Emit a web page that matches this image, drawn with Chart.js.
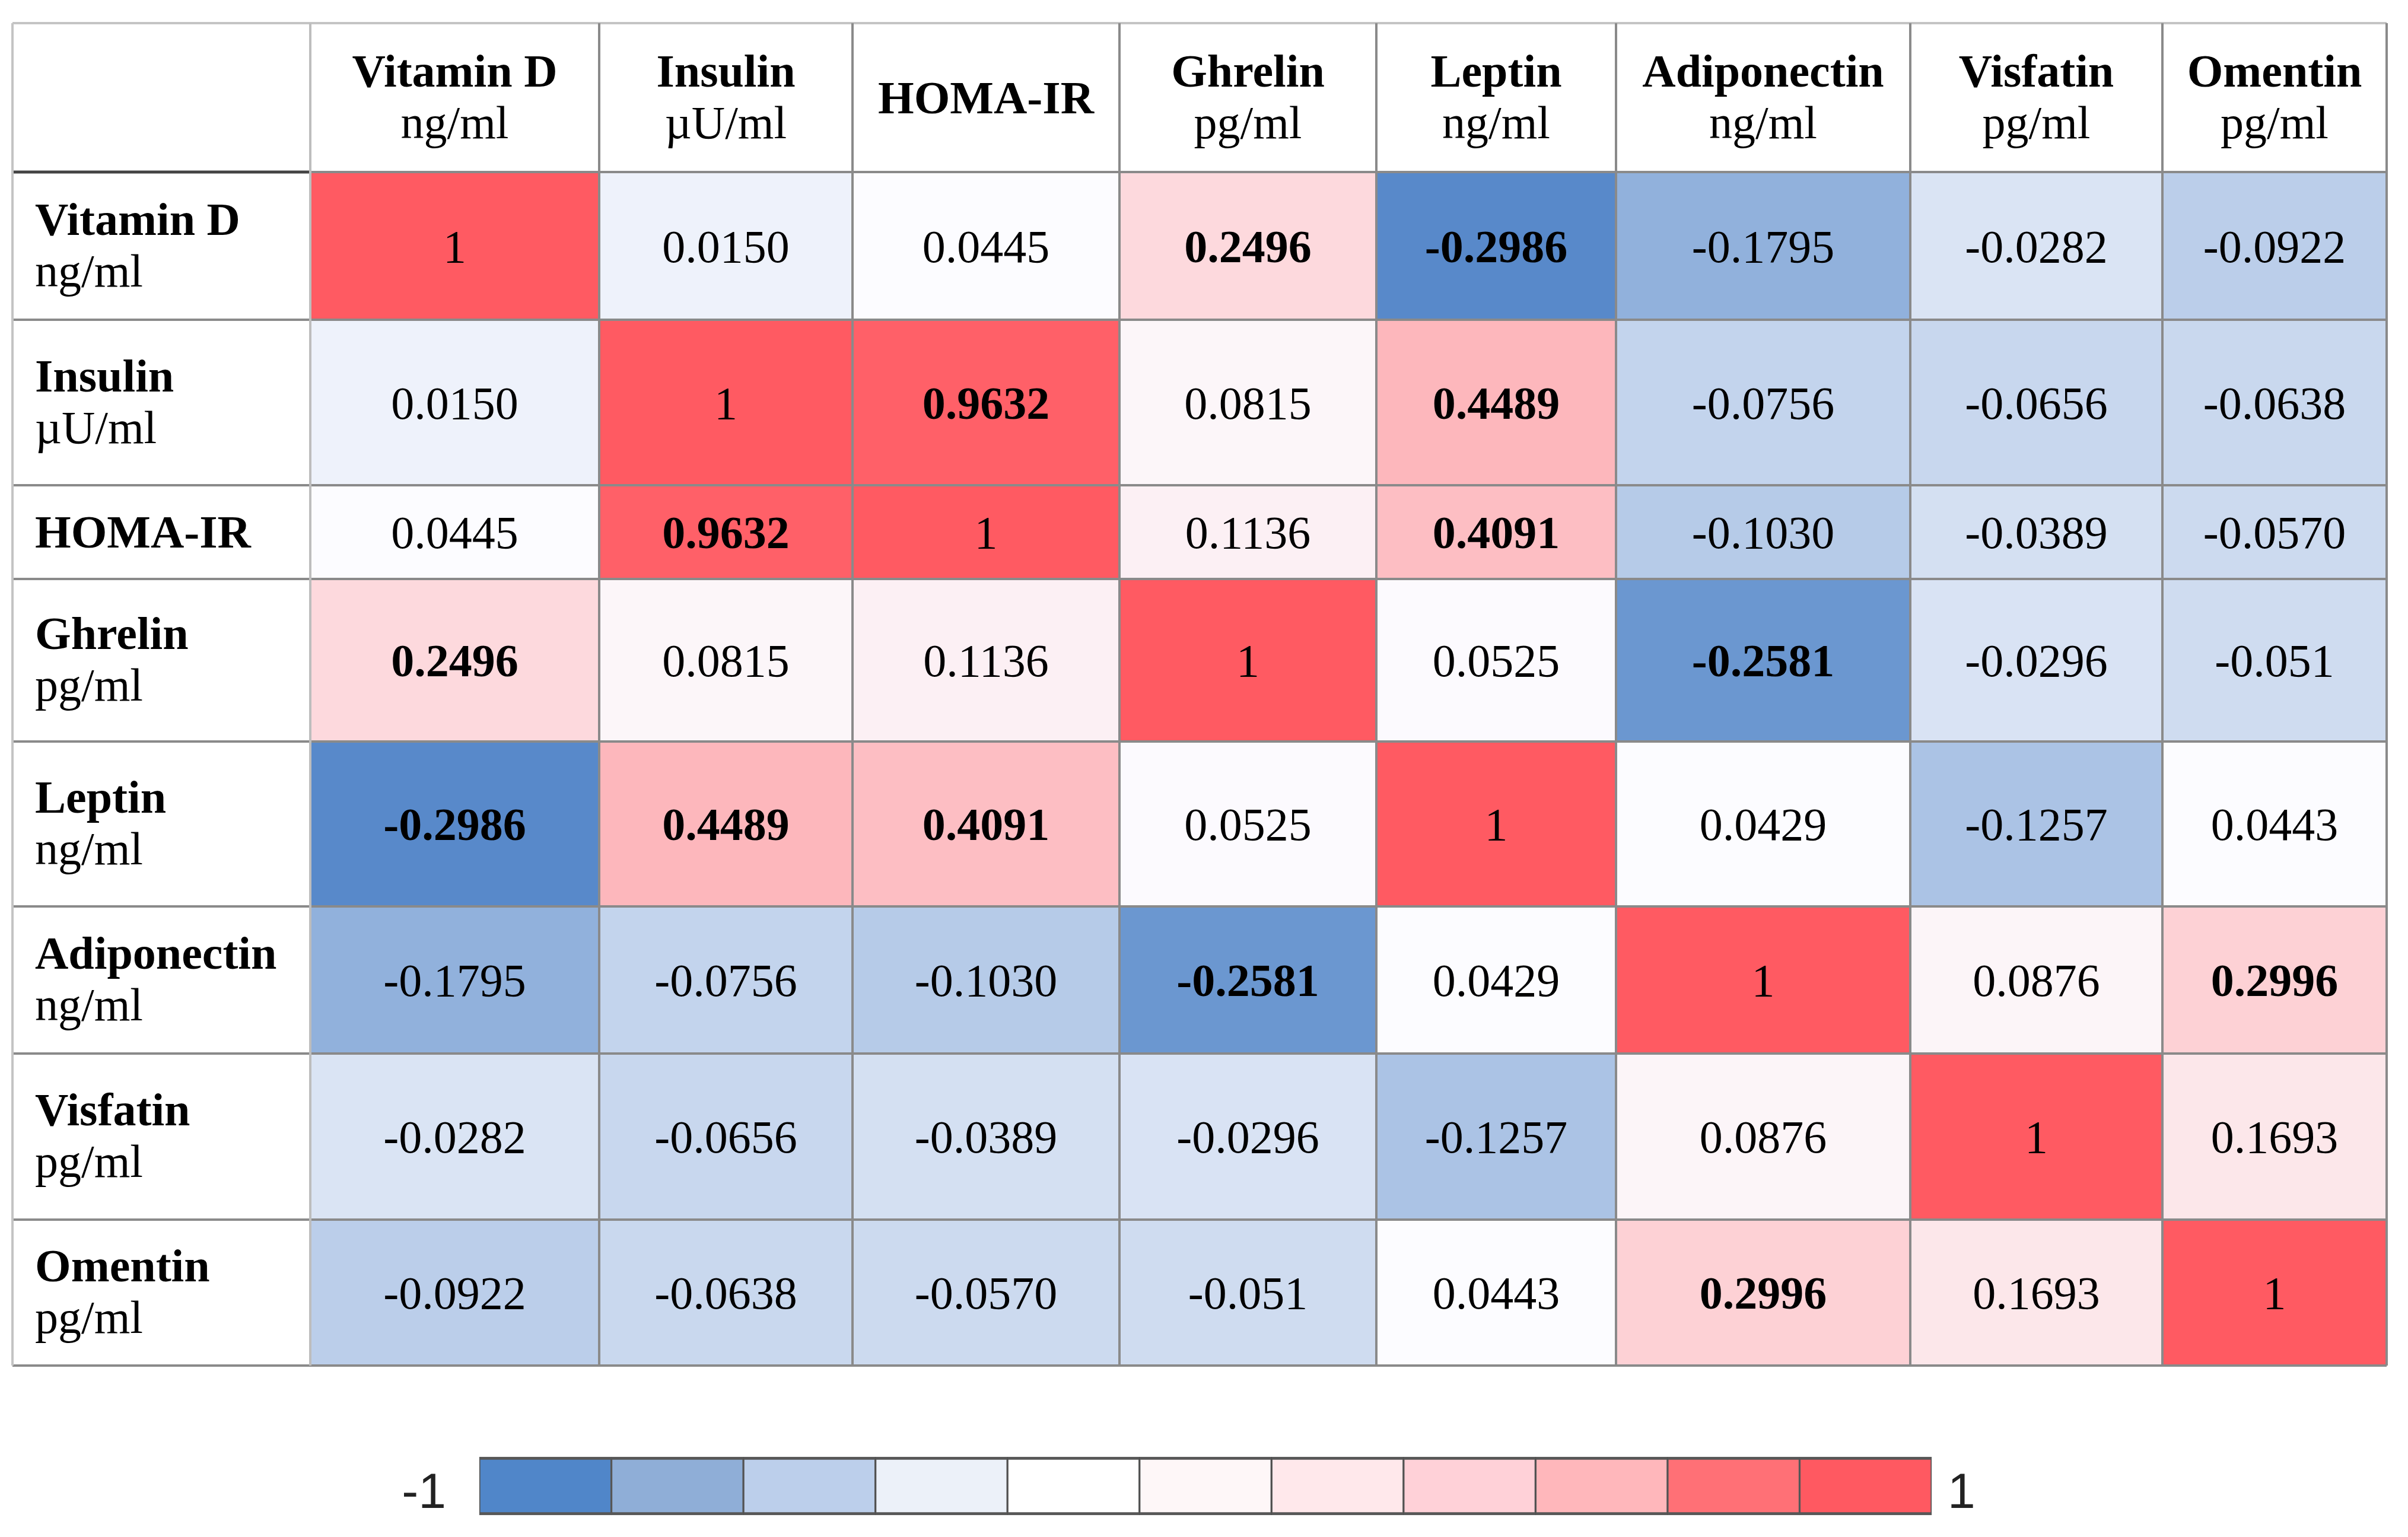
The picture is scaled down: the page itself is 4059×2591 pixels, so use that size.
<!DOCTYPE html>
<html>
<head>
<meta charset="utf-8">
<script src="https://cdn.jsdelivr.net/npm/chart.js@4.4.0/dist/chart.umd.min.js"></script>
<style>
  html, body { margin: 0; padding: 0; background: #fff; }
  #wrap { width: 4059px; height: 2591px; }
</style>
</head>
<body>
<div id="wrap"><canvas id="heat"></canvas></div>
<script>
// variables (same order for rows and columns)
const names = ['Vitamin D', 'Insulin', 'HOMA-IR', 'Ghrelin', 'Leptin', 'Adiponectin', 'Visfatin', 'Omentin'];
const units = ['ng/ml', 'µU/ml', '', 'pg/ml', 'ng/ml', 'ng/ml', 'pg/ml', 'pg/ml'];

// correlation coefficients, as printed in the table
const rVitaminD    = ['1', '0.0150', '0.0445', '0.2496', '-0.2986', '-0.1795', '-0.0282', '-0.0922'];
const rInsulin     = ['0.0150', '1', '0.9632', '0.0815', '0.4489', '-0.0756', '-0.0656', '-0.0638'];
const rHoma        = ['0.0445', '0.9632', '1', '0.1136', '0.4091', '-0.1030', '-0.0389', '-0.0570'];
const rGhrelin     = ['0.2496', '0.0815', '0.1136', '1', '0.0525', '-0.2581', '-0.0296', '-0.051'];
const rLeptin      = ['-0.2986', '0.4489', '0.4091', '0.0525', '1', '0.0429', '-0.1257', '0.0443'];
const rAdiponectin = ['-0.1795', '-0.0756', '-0.1030', '-0.2581', '0.0429', '1', '0.0876', '0.2996'];
const rVisfatin    = ['-0.0282', '-0.0656', '-0.0389', '-0.0296', '-0.1257', '0.0876', '1', '0.1693'];
const rOmentin     = ['-0.0922', '-0.0638', '-0.0570', '-0.051', '0.0443', '0.2996', '0.1693', '1'];
const corr = [rVitaminD, rInsulin, rHoma, rGhrelin, rLeptin, rAdiponectin, rVisfatin, rOmentin];

// colour key
const scaleLabels = ['-1', '1'];
const swatchColors = ['#5086c9', '#8faed7', '#bccfeb', '#ecf1f9', '#ffffff', '#fef7f8',
                      '#ffe8eb', '#ffd1d8', '#ffb7bb', '#ff7076', '#ff5961'];

// layout (canvas units)
const W = 4059, H = 2591;
const colEdges = [21, 523, 1010, 1437, 1887, 2320, 2724, 3220, 3645, 4023];
const rowEdges = [39, 290, 539, 818, 976, 1250, 1528, 1776, 2056, 2302];
const keyLeft = 808, keyRight = 3256, keyTop = 2456, keyBottom = 2554;
const FONT = '"Liberation Serif", "Times New Roman", serif';
const FS = 78;

// 3-colour scale: min -> blue, median -> white, max -> red
const allVals = corr.flat().map(Number).sort((a, b) => a - b);
const lo = allVals[0], hi = allVals[allVals.length - 1];
const n = allVals.length;
const mid = n % 2 ? allVals[(n - 1) / 2] : (allVals[n / 2 - 1] + allVals[n / 2]) / 2;
const BLUE = [88, 137, 202], WHITE = [252, 252, 255], RED = [255, 90, 98];

function mix(a, b, t) {
    return 'rgb(' + a.map((v, k) => Math.round(v + (b[k] - v) * t)).join(',') + ')';
}
function heatColor(v) {
    if (v <= mid) return mix(WHITE, BLUE, (mid - v) / (mid - lo));
    return mix(WHITE, RED, (v - mid) / (hi - mid));
}

let datasets = names.map((name, j) => ({
    label: name,
    data: corr.map((row, i) => ({
        x: (colEdges[j + 1] + colEdges[j + 2]) / 2,
        y: [rowEdges[i + 1], rowEdges[i + 2]],
        v: Number(row[j]),
        t: row[j]
    })),
    barThickness: colEdges[j + 2] - colEdges[j + 1],
    backgroundColor: ctx => ctx.raw ? heatColor(ctx.raw.v) : '#fff',
    borderWidth: 0,
    inflateAmount: 0.5,
    grouped: false
}));

const swatchW = (keyRight - keyLeft) / swatchColors.length;
datasets.push({
    label: 'key',
    data: swatchColors.map((c, k) => ({ x: keyLeft + (k + 0.5) * swatchW, y: [keyTop, keyBottom] })),
    barThickness: swatchW,
    backgroundColor: swatchColors,
    borderColor: 'rgba(45,45,45,0.8)',
    borderWidth: { top: 5, bottom: 5, left: 2, right: 2 },
    borderSkipped: false,
    grouped: false
});

function hLine(ctx, x1, x2, yy, color, w) {
    ctx.strokeStyle = color; ctx.lineWidth = w;
    ctx.beginPath(); ctx.moveTo(x1, yy); ctx.lineTo(x2, yy); ctx.stroke();
}
function vLine(ctx, xx, y1, y2, color, w) {
    ctx.strokeStyle = color; ctx.lineWidth = w;
    ctx.beginPath(); ctx.moveTo(xx, y1); ctx.lineTo(xx, y2); ctx.stroke();
}

const tablePlugin = {
    id: 'tableDecor',
    afterDatasetsDraw(chart) {
        const ctx = chart.ctx;
        const xs = chart.scales.x, ys = chart.scales.y;
        const px = v => xs.getPixelForValue(v);
        const py = v => ys.getPixelForValue(v);
        ctx.save();

        // grid
        const left = px(colEdges[0]), right = px(colEdges[colEdges.length - 1]);
        const top = py(rowEdges[0]), bottom = py(rowEdges[rowEdges.length - 1]);
        for (let k = 1; k < rowEdges.length; k++) {
            hLine(ctx, left, right, py(rowEdges[k]), '#8a8a8a', 4);
        }
        hLine(ctx, left, px(colEdges[1]), py(rowEdges[1]), '#444', 5);
        hLine(ctx, left, right, top, '#c4c4c4', 4);
        vLine(ctx, left, top, bottom, '#c4c4c4', 4);
        vLine(ctx, px(colEdges[1]), top, bottom, '#bdbdbd', 4);
        for (let k = 2; k < colEdges.length; k++) {
            vLine(ctx, px(colEdges[k]), top, bottom, '#8a8a8a', 4);
        }

        ctx.fillStyle = '#000';
        ctx.textBaseline = 'alphabetic';

        // column headers
        ctx.textAlign = 'center';
        const hc = (py(rowEdges[0]) + py(rowEdges[1])) / 2;
        names.forEach((name, j) => {
            const cx = (px(colEdges[j + 1]) + px(colEdges[j + 2])) / 2;
            ctx.font = 'bold ' + FS + 'px ' + FONT;
            if (units[j]) {
                ctx.fillText(name, cx, hc - 19);
                ctx.font = FS + 'px ' + FONT;
                ctx.fillText(units[j], cx, hc + 68);
            } else {
                ctx.fillText(name, cx, hc + 26);
            }
        });

        // row headers
        ctx.textAlign = 'left';
        const lx = px(colEdges[0]) + 38;
        names.forEach((name, i) => {
            const cy = (py(rowEdges[i + 1]) + py(rowEdges[i + 2])) / 2;
            ctx.font = 'bold ' + FS + 'px ' + FONT;
            if (units[i]) {
                ctx.fillText(name, lx, cy - 19);
                ctx.font = FS + 'px ' + FONT;
                ctx.fillText(units[i], lx, cy + 68);
            } else {
                ctx.fillText(name, lx, cy + 26);
            }
        });

        // cell values, placed on the bar elements
        ctx.textAlign = 'center';
        names.forEach((name, j) => {
            chart.getDatasetMeta(j).data.forEach((bar, i) => {
                const d = chart.data.datasets[j].data[i];
                const strong = Math.abs(d.v) >= 0.2 && d.v !== 1;
                ctx.font = (strong ? 'bold ' : '') + FS + 'px ' + FONT;
                ctx.fillText(d.t, bar.x, (bar.y + bar.base) / 2 + 27);
            });
        });

        // key labels
        ctx.font = '84px "Liberation Sans", Arial, sans-serif';
        ctx.fillStyle = '#222';
        ctx.textAlign = 'right';
        ctx.fillText(scaleLabels[0], px(keyLeft) - 56, py(keyBottom) - 12);
        ctx.textAlign = 'left';
        ctx.fillText(scaleLabels[1], px(keyRight) + 27, py(keyBottom) - 12);

        ctx.restore();
    }
};

let chart = new Chart(document.getElementById('heat'), {
    type: 'bar',
    data: { datasets: datasets },
    options: {
        responsive: true,
        maintainAspectRatio: false,
        devicePixelRatio: 1,
        animation: false,
        layout: { padding: 0 },
        plugins: { legend: { display: false }, tooltip: { enabled: false } },
        scales: {
            x: { type: 'linear', min: 0, max: W, offset: false, display: false },
            y: { type: 'linear', min: 0, max: H, reverse: true, display: false }
        }
    },
    plugins: [tablePlugin]
});
</script>
</body>
</html>
